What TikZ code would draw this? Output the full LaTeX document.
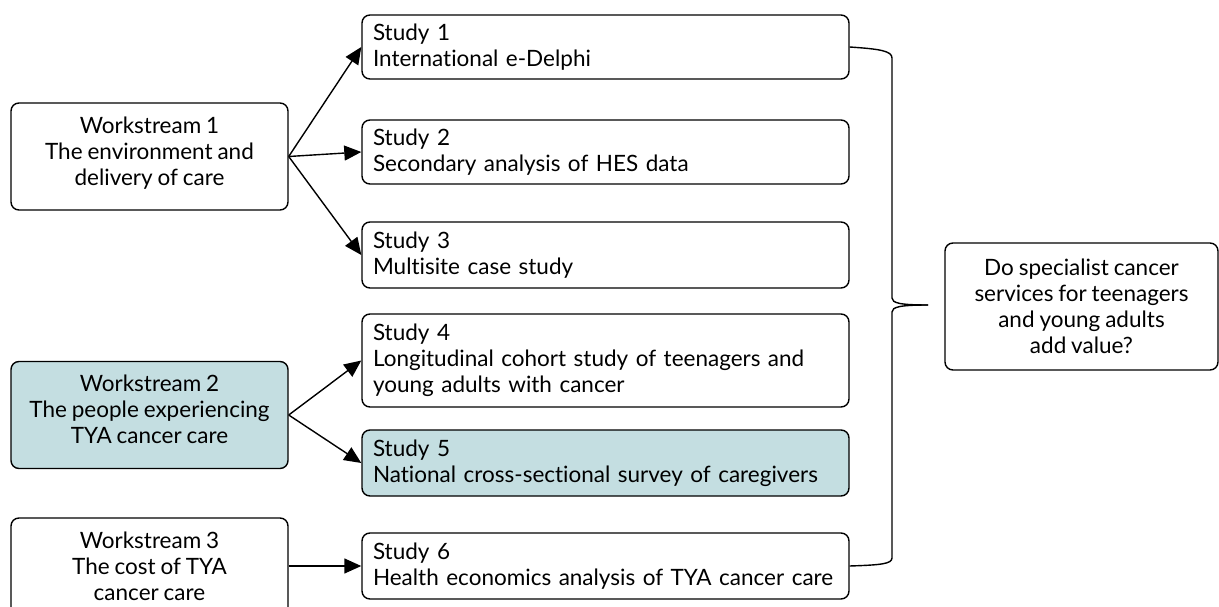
\documentclass[tikz,border=0pt]{standalone}
\usepackage{fontspec}
\setmainfont{Lato}[Ligatures=NoCommon, WordSpace=0.85]
\usetikzlibrary{arrows.meta}
\definecolor{tyablue}{RGB}{196,222,225}

\begin{document}
\begin{tikzpicture}[x=1pt, y=-1pt,
    every node/.style={font=\fontsize{22.5}{26}\selectfont},
    wsbox/.style={draw, line width=1.4pt, rounded corners=8pt, align=center,
      minimum width=277pt, minimum height=107pt, inner sep=0pt, text depth=11pt},
    studybox/.style={draw, line width=1.4pt, rounded corners=8pt, align=left,
      text width=465pt, inner xsep=11pt, inner ysep=0pt, minimum height=64pt},
    arr/.style={line width=1.4pt, -{Triangle[length=17pt, width=15pt]}}]
    \useasboundingbox (0,0) rectangle (1219,607);
    \clip (0,0) rectangle (1219,607);

    % Nodes
    \node[wsbox] (ws1) at (149.5,156.5) {Workstream 1\\The environment and\\delivery of care};
    \node[wsbox, fill=tyablue] (ws2) at (149.5,415) {Workstream 2\\The people experiencing\\TYA cancer care};
    \node[wsbox] (ws3) at (149.5,571.5) {Workstream 3\\The cost of TYA\\cancer care};

    \node[studybox] (s1) at (605.5,47) {Study 1\\International e-Delphi};
    \node[studybox] (s2) at (605.5,152) {Study 2\\Secondary analysis of HES data};
    \node[studybox, minimum height=66pt] (s3) at (605.5,255) {Study 3\\Multisite case study};
    \node[studybox, minimum height=93pt] (s4) at (605.5,360.5) {Study 4\\Longitudinal cohort study of teenagers and\\young adults with cancer};
    \node[studybox, minimum height=66pt, fill=tyablue] (s5) at (605.5,463) {Study 5\\National cross-sectional survey of caregivers};
    \node[studybox, minimum height=66pt] (s6) at (605.5,566) {Study 6\\Health economics analysis of TYA cancer care};

    \node[draw, line width=1.4pt, rounded corners=8pt, align=center,
      minimum width=273pt, minimum height=127pt, inner sep=0pt] (q) at (1081.5,306.5)
      {Do specialist cancer\\services for teenagers\\and young adults\\add value?};

    % Edges
    \draw[arr] (ws1.east) -- (s1.west);
    \draw[arr] (ws1.east) -- (s2.west);
    \draw[arr] (ws1.east) -- (s3.west);
    \draw[arr] (ws2.east) -- (s4.west);
    \draw[arr] (ws2.east) -- (s5.west);
    \draw[arr] (s6.west -| ws3.east) -- (s6.west);

    % Brace
    \coordinate (tip) at (928,305);
    \draw[line width=1.4pt] (s1.east) .. controls (880,49) and (892,51) .. (892,58)
      -- (892,298) .. controls (892,303) and (900,305) .. (tip);
    \draw[line width=1.4pt] (tip) .. controls (900,305) and (892,307) .. (892,312)
      -- (892,558) .. controls (892,564) and (880,565) .. (s6.east);
\end{tikzpicture}
\end{document}
